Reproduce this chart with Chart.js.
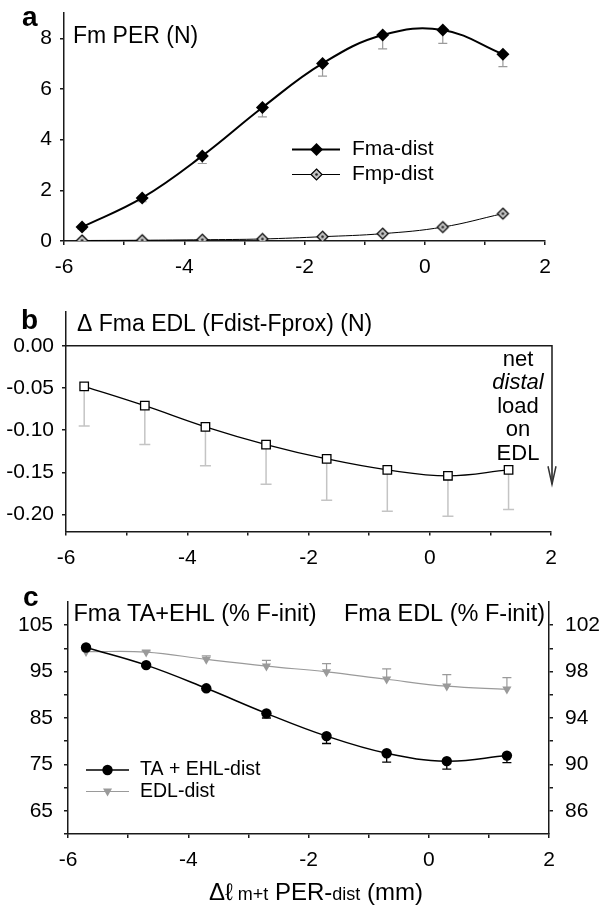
<!DOCTYPE html>
<html><head><meta charset="utf-8">
<script src="https://cdn.jsdelivr.net/npm/chart.js@4.4.1/dist/chart.umd.min.js"></script>
<style>
html,body{margin:0;padding:0;background:#fff;}
#wrap{position:relative;width:600px;height:907px;overflow:hidden;background:#fff;}
canvas{position:absolute;left:0;}
</style></head><body>
<div id="wrap">
<canvas id="ca" width="600" height="285" style="top:0px"></canvas>
<canvas id="cb" width="600" height="285" style="top:285px"></canvas>
<canvas id="cc" width="600" height="337" style="top:570px"></canvas>
</div>
<script>
const FONT = '"Liberation Sans", Arial, Helvetica, sans-serif';

// ---- shared x (Δℓ m+t PER-dist, mm) ----
const xPos = [-5.7, -4.7, -3.7, -2.7, -1.7, -0.7, 0.3, 1.3];
const xTicks = [-6, -5, -4, -3, -2, -1, 0, 1, 2];
const xTickLabels = [-6, -4, -2, 0, 2];

// ---- panel a: Fm PER (N) ----
const fmaDist    = [0.55, 1.70, 3.36, 5.27, 7.01, 8.13, 8.33, 7.37];
const fmaDistErr = [0.08, 0.15, 0.30, 0.37, 0.50, 0.55, 0.53, 0.49];
const fmpDist    = [0.02, 0.03, 0.05, 0.08, 0.17, 0.29, 0.55, 1.08];
const yTicksA = [0, 2, 4, 6, 8];

// ---- panel b: Δ Fma EDL (Fdist-Fprox) (N) ----
const dFmaEdl    = [-0.048, -0.071, -0.096, -0.117, -0.134, -0.147, -0.154, -0.147];
const dFmaEdlErr = [0.047, 0.046, 0.046, 0.047, 0.049, 0.049, 0.048, 0.047];
const yTicksB = [0, -0.05, -0.10, -0.15, -0.20];

// ---- panel c: Fma (% F-init) ----
const taEhl     = [100.2, 96.4, 91.4, 86.0, 81.1, 77.4, 75.7, 76.9];
const taEhlErr  = [0.2, 0.3, 0.4, 1.0, 1.6, 1.9, 1.7, 1.5];
const edlDist    = [99.72, 99.68, 99.05, 98.47, 97.98, 97.34, 96.74, 96.48];
const edlDistErr = [0.08, 0.1, 0.3, 0.5, 0.7, 0.9, 1.0, 1.0];
const yTicksCLeft  = [60, 65, 70, 75, 80, 85, 90, 95, 100, 105];
const yLabelsCLeft = [65, 75, 85, 95, 105];
const yTicksCRight  = [86, 88, 90, 92, 94, 96, 98, 100, 102];
const yLabelsCRight = [86, 90, 94, 98, 102];

const AX = '#1a1a1a';

function pts(ys){ return xPos.map((x,i)=>({x:x, y:ys[i]})); }

function xScale(h){
  return {
    type:'linear', min:-6, max:2,
    afterBuildTicks: s => { s.ticks = xTicks.map(v=>({value:v})); },
    ticks:{ autoSkip:false, maxRotation:0, minRotation:0, padding:10, color:'#000',
      font:{family:FONT, size:21},
      callback: v => xTickLabels.includes(v) ? String(v) : '' },
    grid:{ drawOnChartArea:false, drawTicks:true, tickLength:4, color:AX, lineWidth:1.5 },
    border:{ display:true, color:AX, width:1.5 },
    afterFit: s => { s.height = h; s.paddingLeft = 0; s.paddingRight = 0; }
  };
}
function yScale(o){
  return {
    type:'linear', position:o.pos||'left', min:o.min, max:o.max,
    afterBuildTicks: s => { s.ticks = o.ticks.map(v=>({value:v})); },
    ticks:{ autoSkip:false, padding:o.pad, color:'#000', font:{family:FONT, size:21},
      callback: o.cb },
    grid:{ drawOnChartArea:false, drawTicks:true, tickLength:4, color:AX, lineWidth:1.5 },
    border:{ display:true, color:AX, width:1.5 },
    afterFit: s => { s.width = o.w; s.paddingTop = 0; s.paddingBottom = 0; }
  };
}

const errPlugin = {
  id:'errbars',
  beforeDatasetsDraw(chart){
    const ctx = chart.ctx;
    chart.data.datasets.forEach((ds,i)=>{
      if(!ds.errs) return;
      const meta = chart.getDatasetMeta(i);
      const ys = chart.scales[meta.yAxisID];
      ctx.save();
      ctx.strokeStyle = ds.errColor; ctx.lineWidth = ds.errWidth;
      meta.data.forEach((p,j)=>{
        const v = ds.data[j].y + ds.errDir*ds.errs[j];
        const y2 = ys.getPixelForValue(v);
        ctx.beginPath();
        ctx.moveTo(p.x, p.y); ctx.lineTo(p.x, y2);
        ctx.moveTo(p.x-ds.errCap, y2); ctx.lineTo(p.x+ds.errCap, y2);
        ctx.stroke();
      });
      ctx.restore();
    });
  }
};

function txt(ctx, s, x, y, font, align){
  ctx.font = font; ctx.fillStyle = '#000'; ctx.textAlign = align||'left'; ctx.textBaseline = 'middle';
  ctx.fillText(s, x, y);
}
function diamond(ctx, x, y, r, fill, stroke, lw){
  ctx.beginPath(); ctx.moveTo(x, y-r); ctx.lineTo(x+r, y); ctx.lineTo(x, y+r); ctx.lineTo(x-r, y); ctx.closePath();
  ctx.fillStyle = fill; ctx.fill();
  if(lw){ ctx.lineWidth = lw; ctx.strokeStyle = stroke; ctx.stroke(); }
}
function makeDotDiamond(r){
  const s = 2*r+4, c = document.createElement('canvas'); c.width = s; c.height = s;
  const g = c.getContext('2d'), m = s/2;
  diamond(g, m, m, r, '#c4c4c4', '#000', 1.2);
  g.beginPath(); g.arc(m, m, 1.3, 0, Math.PI*2); g.fillStyle = '#222'; g.fill();
  return c;
}
const fmpImg = makeDotDiamond(5.5);

const base = { responsive:false, animation:false, events:[],
  plugins:{ legend:{display:false}, tooltip:{enabled:false} } };

// ================= panel a =================
const decorA = { id:'decorA', afterDraw(chart){
  const ctx = chart.ctx; ctx.save();
  txt(ctx, 'a', 22, 18, 'bold 28px '+FONT);
  txt(ctx, 'Fm PER (N)', 73, 37, '23px '+FONT);
  // legend
  ctx.strokeStyle = '#000'; ctx.lineWidth = 2;
  ctx.beginPath(); ctx.moveTo(292,149.5); ctx.lineTo(340,149.5); ctx.stroke();
  diamond(ctx, 316.5, 149.5, 6.5, '#000', '#000', 0);
  txt(ctx, 'Fma-dist', 352, 149.5, '21px '+FONT);
  ctx.strokeStyle = '#000'; ctx.lineWidth = 1;
  ctx.beginPath(); ctx.moveTo(292,174.5); ctx.lineTo(340,174.5); ctx.stroke();
  ctx.drawImage(fmpImg, 316.5-fmpImg.width/2, 174.5-fmpImg.height/2);
  txt(ctx, 'Fmp-dist', 352, 174.5, '21px '+FONT);
  ctx.restore();
}};
new Chart(document.getElementById('ca'), {
  type:'line',
  data:{ datasets:[
    { label:'Fma-dist', data:pts(fmaDist), borderColor:'#000', borderWidth:2, tension:0.4, fill:false,
      pointStyle:'rectRot', pointRadius:6.5, pointBackgroundColor:'#000', pointBorderColor:'#000', pointBorderWidth:0,
      errs:fmaDistErr, errDir:-1, errColor:'#9a9a9a', errWidth:1.2, errCap:4.5 },
    { label:'Fmp-dist', data:pts(fmpDist), borderColor:'#000', borderWidth:1, tension:0.4, fill:false,
      pointStyle:fmpImg, pointRadius:5.5 }
  ]},
  options:Object.assign({}, base, {
    layout:{ padding:{ top:13, right:55, left:0, bottom:0 } },
    scales:{
      x: xScale(44),
      y: yScale({min:0, max:9, ticks:yTicksA, pad:8, w:64, cb: v => String(v)})
    }
  }),
  plugins:[errPlugin, decorA]
});

// ================= panel b =================
const decorB = { id:'decorB', afterDraw(chart){
  const ctx = chart.ctx, ca = chart.chartArea, ys = chart.scales.y; ctx.save();
  txt(ctx, 'b', 21, 36, 'bold 28px '+FONT);
  txt(ctx, '\u0394 Fma EDL (Fdist-Fprox) (N)', 77, 40, '23px '+FONT);
  const y0 = ys.getPixelForValue(0), ax = ca.right + 1;
  const yEnd = ys.getPixelForValue(-0.164);
  ctx.strokeStyle = AX; ctx.lineWidth = 1.5;
  ctx.beginPath(); ctx.moveTo(ca.left, y0); ctx.lineTo(ax, y0); ctx.lineTo(ax, yEnd); ctx.stroke();
  ctx.strokeStyle = '#333'; ctx.lineWidth = 1.5;
  ctx.beginPath(); ctx.moveTo(ax-4, yEnd-18); ctx.lineTo(ax, yEnd); ctx.lineTo(ax+4, yEnd-18); ctx.stroke();
  const cx = 518;
  txt(ctx, 'net', cx, 74.5, '22px '+FONT, 'center');
  txt(ctx, 'distal', cx, 98, 'italic 22px '+FONT, 'center');
  txt(ctx, 'load', cx, 121.5, '22px '+FONT, 'center');
  txt(ctx, 'on', cx, 145, '22px '+FONT, 'center');
  txt(ctx, 'EDL', cx, 168.5, '22px '+FONT, 'center');
  ctx.restore();
}};
new Chart(document.getElementById('cb'), {
  type:'line',
  data:{ datasets:[
    { label:'dFma EDL', data:pts(dFmaEdl), borderColor:'#000', borderWidth:1.3, tension:0.4, fill:false,
      pointStyle:'rect', pointRadius:6, pointBackgroundColor:'#fff', pointBorderColor:'#000', pointBorderWidth:1.3,
      errs:dFmaEdlErr, errDir:-1, errColor:'#c4c4c4', errWidth:1.5, errCap:5.5 }
  ]},
  options:Object.assign({}, base, {
    layout:{ padding:{ top:27, right:49, left:0, bottom:0 } },
    scales:{
      x: xScale(38.5),
      y: yScale({min:-0.22, max:0.04, ticks:yTicksB, pad:8, w:66, cb: v => v.toFixed(2)})
    }
  }),
  plugins:[errPlugin, decorB]
});

// ================= panel c =================
const decorC = { id:'decorC', afterDraw(chart){
  const ctx = chart.ctx; ctx.save();
  txt(ctx, 'c', 23, 28, 'bold 28px '+FONT);
  txt(ctx, 'Fma TA+EHL (% F-init)', 73.5, 45, '23.5px '+FONT);
  txt(ctx, 'Fma EDL (% F-init)', 545, 45, '23.5px '+FONT, 'right');
  // legend
  ctx.strokeStyle = '#000'; ctx.lineWidth = 1.5;
  ctx.beginPath(); ctx.moveTo(86,200); ctx.lineTo(129,200); ctx.stroke();
  ctx.beginPath(); ctx.arc(107.5, 200, 5.2, 0, Math.PI*2); ctx.fillStyle = '#000'; ctx.fill();
  txt(ctx, 'TA + EHL-dist', 140, 200, '19.5px '+FONT);
  ctx.strokeStyle = '#9a9a9a'; ctx.lineWidth = 1.2;
  ctx.beginPath(); ctx.moveTo(86,221.5); ctx.lineTo(129,221.5); ctx.stroke();
  ctx.beginPath(); ctx.moveTo(107.5-4.5, 218.5); ctx.lineTo(107.5+4.5, 218.5); ctx.lineTo(107.5, 226.5); ctx.closePath();
  ctx.fillStyle = '#9a9a9a'; ctx.fill();
  txt(ctx, 'EDL-dist', 140, 221.5, '19.5px '+FONT);
  // x-axis title with smaller sub-parts
  const parts = [['\u0394\u2113', 24], [' m+t', 18], [' PER-', 24], ['dist', 18], [' (mm)', 24]];
  let x = 209; const y = 322;
  ctx.fillStyle = '#000'; ctx.textAlign = 'left'; ctx.textBaseline = 'alphabetic';
  parts.forEach(p => { ctx.font = p[1]+'px '+FONT; ctx.fillText(p[0], x, y+8); x += ctx.measureText(p[0]).width; });
  ctx.restore();
}};
new Chart(document.getElementById('cc'), {
  type:'line',
  data:{ datasets:[
    { label:'TA + EHL-dist', data:pts(taEhl), yAxisID:'y', borderColor:'#000', borderWidth:1.5, tension:0.4, fill:false,
      pointStyle:'circle', pointRadius:5.2, pointBackgroundColor:'#000', pointBorderColor:'#000', pointBorderWidth:0,
      errs:taEhlErr, errDir:-1, errColor:'#000', errWidth:1.3, errCap:4.5 },
    { label:'EDL-dist', data:pts(edlDist), yAxisID:'y2', borderColor:'#9a9a9a', borderWidth:1.2, tension:0.4, fill:false,
      pointStyle:'triangle', pointRotation:180, pointRadius:5.3, pointBackgroundColor:'#9a9a9a', pointBorderColor:'#9a9a9a', pointBorderWidth:0,
      errs:edlDistErr, errDir:1, errColor:'#9a9a9a', errWidth:1.2, errCap:4.5 }
  ]},
  options:Object.assign({}, base, {
    layout:{ padding:{ top:32, right:0, left:0, bottom:0 } },
    scales:{
      x: xScale(73),
      y: yScale({min:60, max:110, ticks:yTicksCLeft, pad:11, w:68, cb: v => yLabelsCLeft.includes(v) ? String(v) : ''}),
      y2: yScale({pos:'right', min:84, max:104, ticks:yTicksCRight, pad:12, w:51, cb: v => yLabelsCRight.includes(v) ? String(v) : ''})
    }
  }),
  plugins:[errPlugin, decorC]
});
</script>
</body></html>
